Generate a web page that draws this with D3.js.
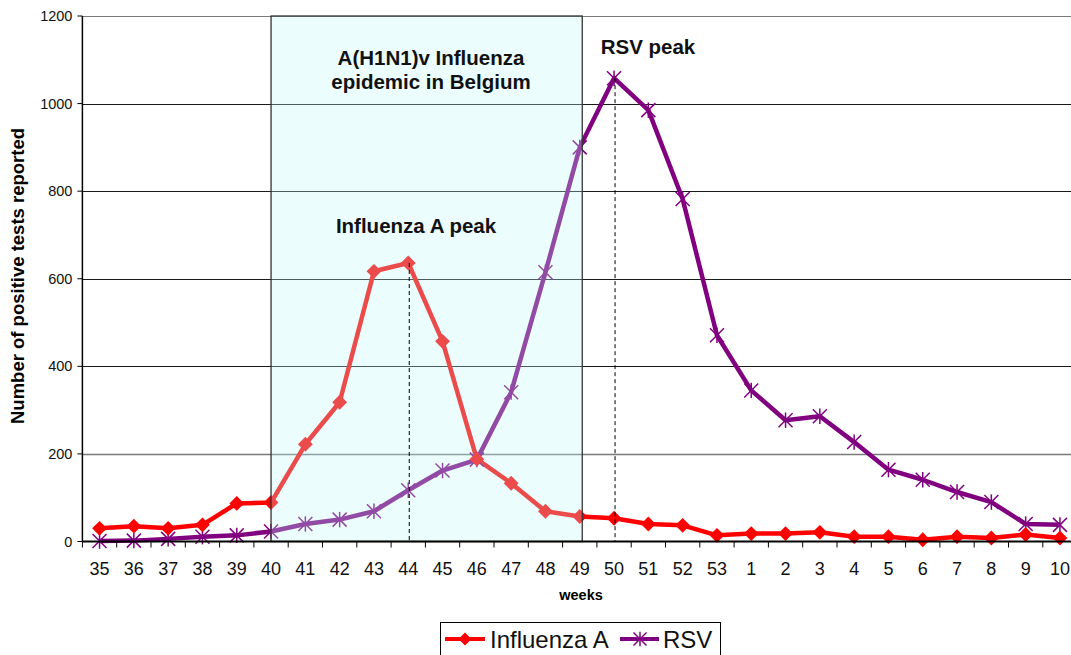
<!DOCTYPE html>
<html>
<head>
<meta charset="utf-8">
<script src="https://cdn.jsdelivr.net/npm/d3@7"></script>
<style>
  html, body { margin: 0; padding: 0; background: #fff; }
  svg { display: block; font-family: "Liberation Sans", Arial, sans-serif; }
</style>
</head>
<body>
<svg id="chart" width="1071" height="655"></svg>
<script>
// ---- data ----
const weeks = ["35","36","37","38","39","40","41","42","43","44","45","46","47","48","49","50","51","52","53","1","2","3","4","5","6","7","8","9","10"];
const influenzaA = [30,35,30,38,87,89,222,318,617,636,457,188,133,69,57,53,40,37,14,18,18,21,11,11,4,11,8,16,8];
const rsv = [1,2,6,11,14,23,40,50,69,117,162,187,341,615,900,1058,985,782,471,345,277,286,227,164,141,113,90,40,38];
const yTicks = [0,200,400,600,800,1000,1200];
const epidemicStart = "40", epidemicEnd = "49";
const fluPeakWeek = "44", rsvPeakWeek = "50";

(function () {
// ---- layout ----
const svg = d3.select("#chart");
const pL = 82.4, pR = 1077.1, pT = 16, pB = 541.5;

const x = d3.scaleBand().domain(weeks).range([pL, pR]);
const cx = w => x(w) + x.bandwidth() / 2;
const y = d3.scaleLinear().domain([0, 1200]).range([pB, pT]);

// gridlines
svg.append("g").selectAll("line").data(yTicks.filter(t => t > 0)).join("line")
  .attr("x1", pL).attr("x2", pR)
  .attr("y1", d => Math.round(y(d)) + 0.5).attr("y2", d => Math.round(y(d)) + 0.5)
  .attr("stroke", d => (d === 1200 || d === 200) ? "#7a7a7a" : "#1a1a1a")
  .attr("stroke-width", d => d === 200 ? 1.6 : 1);

// series lines
const line = d3.line().x((d, i) => cx(weeks[i])).y(d => y(d));
const fluColor = "#ff0000", rsvColor = "#800080";

svg.append("path").datum(rsv).attr("d", line)
  .attr("fill", "none").attr("stroke", rsvColor).attr("stroke-width", 4.5).attr("stroke-linejoin", "round");
svg.append("path").datum(influenzaA).attr("d", line)
  .attr("fill", "none").attr("stroke", fluColor).attr("stroke-width", 4.5).attr("stroke-linejoin", "round");

// markers
function star(g, px, py, r, color) {
  g.append("line").attr("x1", px - r).attr("x2", px + r).attr("y1", py - r).attr("y2", py + r).attr("stroke", color).attr("stroke-width", 1.5);
  g.append("line").attr("x1", px - r).attr("x2", px + r).attr("y1", py + r).attr("y2", py - r).attr("stroke", color).attr("stroke-width", 1.5);
  g.append("line").attr("x1", px).attr("x2", px).attr("y1", py - r * 1.1).attr("y2", py + r * 1.1).attr("stroke", color).attr("stroke-width", 1.5);
}
const rsvG = svg.append("g");
rsv.forEach((v, i) => star(rsvG, cx(weeks[i]), y(v), 7, rsvColor));

svg.append("g").selectAll("path").data(influenzaA).join("path")
  .attr("d", d3.symbol().type(d3.symbolSquare).size(110))
  .attr("transform", (d, i) => `translate(${cx(weeks[i])},${y(d)}) rotate(45)`)
  .attr("fill", fluColor);

// epidemic overlay box
const bx0 = cx(epidemicStart), bx1 = cx(epidemicEnd) + 2.5;
svg.append("rect")
  .attr("x", bx0).attr("y", pT).attr("width", bx1 - bx0).attr("height", pB - pT)
  .attr("fill", "rgb(190,250,250)").attr("fill-opacity", 0.3)
  .attr("stroke", "#333").attr("stroke-width", 1.3);

// dashed peak lines
[[fluPeakWeek, influenzaA], [rsvPeakWeek, rsv]].forEach(([w, arr]) => {
  const v = arr[weeks.indexOf(w)];
  svg.append("line").attr("x1", cx(w) + 1).attr("x2", cx(w) + 1).attr("y1", y(v)).attr("y2", pB)
    .attr("stroke", "#000").attr("stroke-width", 1).attr("stroke-dasharray", "4,3");
});

// axes
const yAxis = svg.append("g").attr("transform", `translate(${pL},0)`);
yAxis.append("line").attr("x1", 0).attr("x2", 0).attr("y1", pT).attr("y2", pB).attr("stroke", "#000").attr("stroke-width", 1.5);
yAxis.selectAll(".t").data(yTicks).join("line").attr("class", "t")
  .attr("x1", -5).attr("x2", 0).attr("y1", d => y(d)).attr("y2", d => y(d)).attr("stroke", "#000");
yAxis.selectAll("text").data(yTicks).join("text")
  .attr("x", -10).attr("y", d => y(d)).attr("dy", "0.35em")
  .attr("text-anchor", "end").attr("font-size", 14.5).attr("fill", "#111").text(d => d);

const xAxis = svg.append("g");
xAxis.append("line").attr("x1", pL).attr("x2", pR).attr("y1", pB).attr("y2", pB).attr("stroke", "#000").attr("stroke-width", 2);
xAxis.selectAll(".tk").data(weeks).join("line").attr("class", "tk")
  .attr("x1", d => x(d)).attr("x2", d => x(d)).attr("y1", pB).attr("y2", pB + 6).attr("stroke", "#000");
xAxis.selectAll("text").data(weeks).join("text")
  .attr("x", d => cx(d)).attr("y", 575).attr("text-anchor", "middle")
  .attr("font-size", 18).attr("fill", "#111").text(d => d);

// axis titles
svg.append("text").attr("x", 581).attr("y", 600).attr("text-anchor", "middle")
  .attr("font-size", 14.5).attr("font-weight", "bold").text("weeks");
svg.append("text").attr("transform", "translate(24,276) rotate(-90)").attr("text-anchor", "middle")
  .attr("font-size", 18.5).attr("font-weight", "bold").text("Number of positive tests reported");

// annotations
const ann = [
  ["A(H1N1)v Influenza", 431, 65],
  ["epidemic in Belgium", 431, 89],
  ["Influenza A peak", 416, 233],
  ["RSV peak", 648, 54]
];
svg.append("g").selectAll("text").data(ann).join("text")
  .attr("x", d => d[1]).attr("y", d => d[2]).attr("text-anchor", "middle")
  .attr("font-size", 20.5).attr("font-weight", "bold").attr("fill", "#111").text(d => d[0]);

// legend
const lg = svg.append("g");
lg.append("rect").attr("x", 440.5).attr("y", 622.5).attr("width", 280).attr("height", 40)
  .attr("fill", "#fff").attr("stroke", "#000").attr("stroke-width", 1);
lg.append("line").attr("x1", 445).attr("x2", 485).attr("y1", 639).attr("y2", 639).attr("stroke", fluColor).attr("stroke-width", 4);
lg.append("path").attr("d", d3.symbol().type(d3.symbolSquare).size(85)).attr("transform", "translate(465,639) rotate(45)").attr("fill", fluColor);
lg.append("text").attr("x", 490).attr("y", 648).attr("font-size", 24).attr("fill", "#111").text("Influenza A");
lg.append("line").attr("x1", 620).attr("x2", 659).attr("y1", 639).attr("y2", 639).attr("stroke", rsvColor).attr("stroke-width", 4);
star(lg, 640, 639, 6.5, rsvColor);
lg.append("text").attr("x", 663).attr("y", 648).attr("font-size", 24).attr("fill", "#111").text("RSV");
})();
</script>
</body>
</html>
